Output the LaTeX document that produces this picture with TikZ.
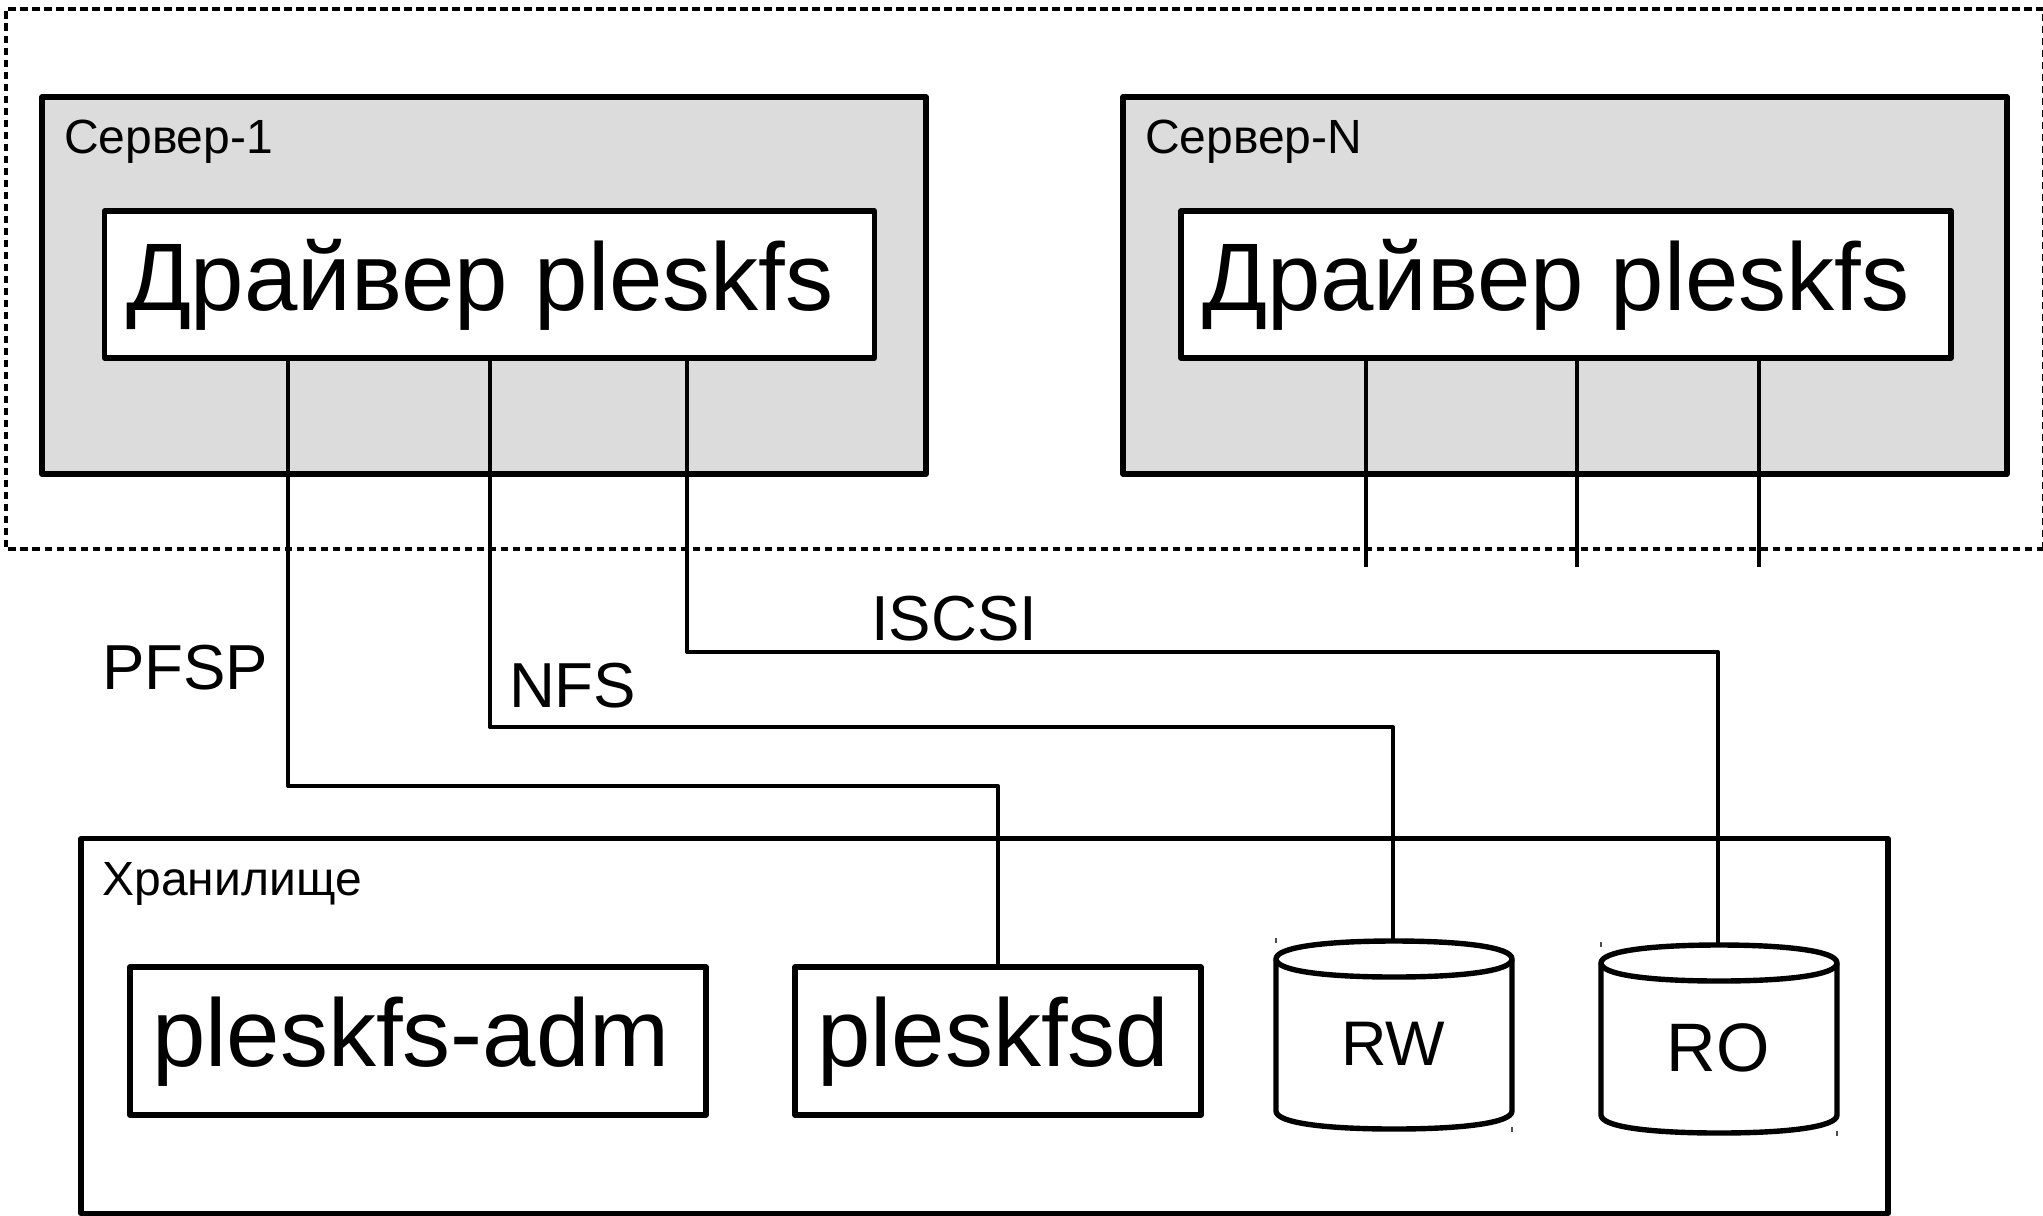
\documentclass[tikz,border=0pt]{standalone}
\usepackage{fontspec}
\usetikzlibrary{calc}
\setmainfont{Liberation Sans}
\newcommand{\pxfont}[1]{\fontsize{#1}{#1}\selectfont}
\definecolor{srvgray}{HTML}{DCDCDC}
\tikzset{
  x=0.5pt,y=-0.5pt,
  box/.style={draw=black,line width=2.7pt,line join=round,inner sep=0pt,outer sep=0pt,anchor=north west},
  server/.style={box,fill=srvgray,minimum width=442pt,minimum height=188.5pt},
  driver/.style={box,fill=white,minimum width=385pt,minimum height=73.5pt},
  label/.style={anchor=base west,inner sep=0pt,outer sep=0pt,text=black},
  big/.style={label,font=\pxfont{48}},
  mid/.style={label,font=\pxfont{31.8}},
  small/.style={label,font=\pxfont{24}},
  link/.style={draw=black,line width=2pt,line join=round},
  stub/.style={draw=black,line width=2pt},
  frame/.style={draw=black,line width=1.7pt,dash pattern=on 3.75pt off 2.25pt},
  drum/.style={draw=black,line width=2.7pt,line join=round},
  speck/.style={draw=black!70,line width=0.6pt},
}
% drum: left x, top y, height
\newcommand{\drumshape}[3]{%
  \draw[drum,fill=white] (#1,#2+18) .. controls (#1,#2+6) and (#1+50,#2) .. (#1+118,#2)
     .. controls (#1+186,#2) and (#1+236,#2+6) .. (#1+236,#2+18)
     -- (#1+236,#2+#3-18) .. controls (#1+236,#2+#3-6) and (#1+186,#2+#3) .. (#1+118,#2+#3)
     .. controls (#1+50,#2+#3) and (#1,#2+#3-6) .. (#1,#2+#3-18) -- cycle;
  \draw[drum] (#1,#2+18) .. controls (#1,#2+30) and (#1+50,#2+36) .. (#1+118,#2+36)
     .. controls (#1+186,#2+36) and (#1+236,#2+30) .. (#1+236,#2+18);
  \draw[speck] (#1,#2-3) -- (#1,#2+2);
  \draw[speck] (#1+236,#2+#3-2) -- (#1+236,#2+#3+3);
}
\begin{document}
\begin{tikzpicture}
\useasboundingbox (0,0) rectangle (2043,1215);
% outer dashed frame
\draw[frame] (2043.5,549) -- (2043.5,9) -- (6,9) -- (6,549) -- (2043.5,549);
% servers
\node[server] (srv1) at (42,97) {};
\node[server] (srvN) at (1123,97) {};
\node[driver] (drv1) at (104.5,211) {};
\node[driver] (drvN) at (1181,211) {};
\node[small] (lab1) at (64,153) {Сервер-1};
\node[small] (labN) at (1145,153) {Сервер-N};
\node[big] (txt1) at (126,310) {Драйвер pleskfs};
\node[big] (txtN) at (1202,310) {Драйвер pleskfs};
% storage
\node[box,minimum width=903.5pt,minimum height=187.5pt] (store) at (81,838.5) {};
\node[small] (labS) at (102.5,895) {Хранилище};
\node[box,fill=white,minimum width=288pt,minimum height=74pt] (adm) at (130,967) {};
\node[box,fill=white,minimum width=203pt,minimum height=74pt] (fsd) at (795,967) {};
\node[big] (txtA) at (152,1066) {pleskfs-adm};
\node[big] (txtF) at (817,1066) {pleskfsd};
% drums
\drumshape{1276}{941}{188}
\drumshape{1601}{945}{188}
\coordinate (rwtop) at (1393,941);
\coordinate (rotop) at (1718,945);
\node[label,anchor=base,font=\pxfont{31.5}] (rw) at (1393,1065) {RW};
\node[label,anchor=base,font=\pxfont{34.3}] (ro) at (1718,1071) {RO};
% connectors
\coordinate (n1) at ($(drv1.south west)+(183.5,0)$);
\coordinate (n2) at ($(drv1.south west)+(385,0)$);
\coordinate (n3) at ($(drv1.south west)+(582.5,0)$);
\draw[link] (n1) |- (998,786) -- (fsd.north);
\draw[link] (n2) |- (1393,727) -- (rwtop);
\draw[link] (n3) |- (1718,652) -- (rotop);
\coordinate (e1) at (1365.5,567);
\coordinate (e2) at (1576.5,567);
\coordinate (e3) at (1758.5,567);
\draw[stub] (drvN.south west -| e1) -- (e1);
\draw[stub] (drvN.south west -| e2) -- (e2);
\draw[stub] (drvN.south west -| e3) -- (e3);
% protocol labels
\node[mid] (pfsp) at (102,689) {PFSP};
\node[mid] (nfs) at (509,707) {NFS};
\node[mid] (iscsi) at (871,640) {ISCSI};
\end{tikzpicture}
\end{document}
